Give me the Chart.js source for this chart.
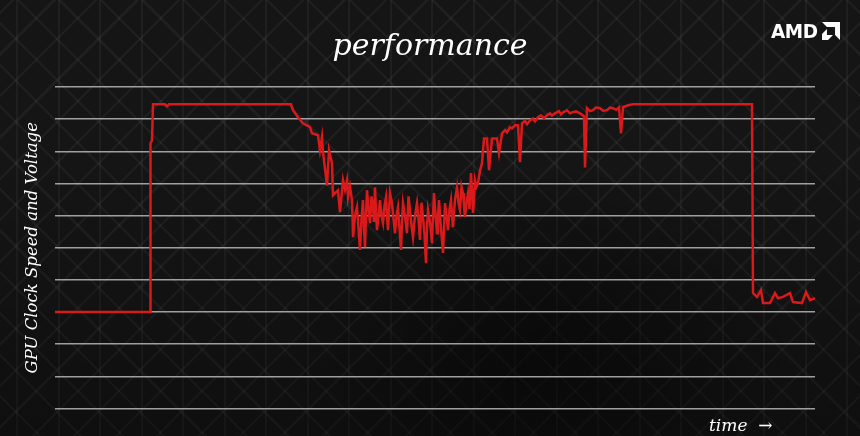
<!DOCTYPE html>
<html>
<head>
<meta charset="utf-8">
<script src="https://cdn.jsdelivr.net/npm/chart.js@4.4.1/dist/chart.umd.min.js"></script>
<style>
  html, body { margin: 0; padding: 0; }
  body {
    width: 860px; height: 436px; overflow: hidden; position: relative;
    background-color: #151515;
    background-image:
      radial-gradient(ellipse 260px 200px at 540px 360px, rgba(0,0,0,0.45), rgba(0,0,0,0) 100%),
      linear-gradient(180deg, rgba(0,0,0,0) 35%, rgba(0,0,0,0.3) 100%),
      repeating-linear-gradient(90deg, transparent 0 16px, rgba(255,255,255,0.045) 16px 18px, transparent 18px 41.5px),
      repeating-linear-gradient(45deg, transparent 0 27px, rgba(255,255,255,0.045) 27px 29.3px),
      repeating-linear-gradient(-45deg, transparent 0 27px, rgba(255,255,255,0.045) 27px 29.3px);
  }
  #wrap { position: absolute; left: 0; top: 0; width: 860px; height: 436px; }
  .time {
    position: absolute; left: 709px; top: 415px;
    font-family: "DejaVu Serif", serif; font-style: italic; font-size: 17px; color: #fff;
  }
  .logo { position: absolute; left: 771px; top: 19px; }
  .logo span {
    font-family: "DejaVu Sans", sans-serif; font-weight: bold; font-size: 20px; color: #fff;
    display: inline-block; transform: scaleX(0.92); transform-origin: left center; letter-spacing: -0.5px;
  }
  .logo svg { position: absolute; left: 51px; top: 3px; }
</style>
</head>
<body>
<div id="wrap"><canvas id="perfChart" width="860" height="436"></canvas></div>
<div class="time">time&nbsp; →</div>
<div class="logo"><span>AMD</span>
  <svg width="18" height="18" viewBox="0 0 20 20"><path fill="#fff" d="M0 0 H20 V20 L14.5 14.5 V5.5 H5.5 Z M5.5 7.8 L0 13.3 V20 H6.7 L12.2 14.5 H5.5 Z"/></svg>
</div>
<script>
// time axis (arbitrary units) and GPU clock reading (arbitrary units, 0-1000)
const timeSteps = [
  0, 95, 95.5, 97, 98, 110, 112, 114, 236, 238, 243, 248, 255, 257, 263, 265, 267, 268, 272, 274, 277, 278, 283,
  285, 286.5, 288, 290, 292, 293, 295, 297, 298, 300,
  302, 303.5, 305, 306.5, 308, 309, 310, 311, 312, 313.5,
  315, 316.5, 318, 319, 320, 321, 322, 323.5, 325, 326.5,
  328, 329.5, 331, 332, 333, 335, 337, 338.5, 340, 341.5,
  343, 344.5, 346, 347, 348, 350, 352, 353.5, 355, 356.5,
  358, 360, 362, 363.5, 365, 366.5, 368, 369.5, 371, 372,
  373, 375, 377, 378, 379, 380.5, 382, 383, 384, 386,
  388, 389, 390, 391.5, 393, 394.5, 396, 397, 398, 400,
  402, 403.5, 405, 406.5, 408, 409, 410, 411.5, 413, 414.5,
  416, 417, 418, 419, 420, 421.5, 423, 425, 427,
  429, 432, 434, 437, 442, 444, 447, 450, 452, 455, 457, 460, 463, 465,
  467, 470, 472, 475, 478, 480, 483, 486, 489, 492, 495, 497, 500, 504, 506, 508, 512, 515, 517, 521, 525, 529, 530,
  532, 535, 538, 541, 545, 548, 552, 555, 558, 561, 564, 566, 568, 573, 578, 697,
  698, 702, 706, 708, 715, 720, 723, 728, 735, 738, 747, 751, 755, 760
];
const clockSpeed = [
  300, 300, 825, 834, 946, 946, 940, 946, 946, 928, 906, 887, 875, 856, 850, 803, 844, 797, 694, 803, 763, 663, 679,
  611, 660, 710, 680, 710, 657, 690, 648, 533, 600,
  626, 560, 493, 590, 648, 560, 502, 600, 679, 620,
  577, 660, 626, 580, 688, 610, 555, 600, 648, 600,
  577, 630, 657, 600, 555, 670, 639, 590, 545, 600,
  626, 560, 493, 580, 639, 600, 545, 660, 617, 570,
  533, 600, 639, 590, 524, 640, 595, 540, 452, 560,
  617, 580, 514, 600, 670, 600, 545, 600, 648, 560,
  484, 560, 639, 600, 555, 620, 648, 600, 564, 650,
  688, 640, 617, 690, 670, 630, 595, 640, 670, 620,
  732, 680, 608, 650, 710, 690, 701, 740, 763,
  840, 840, 741, 840, 840, 794, 856, 866, 859, 875, 871, 881, 881, 766,
  887, 895, 884, 896, 902, 893, 906, 912, 903, 912, 918, 911, 918, 925, 915, 921, 927, 918, 921, 924, 918, 909, 750,
  934, 925, 928, 937, 934, 926, 928, 936, 934, 929, 937, 856, 937, 943, 946, 946,
  359, 347, 368, 328, 328, 359, 343, 347, 359, 331, 328, 362, 337, 343
];
const gridLevels = [0, 1000, 100]; // min, max, step

const points = timeSteps.map((t, i) => ({ x: t, y: clockSpeed[i] }));

new Chart(document.getElementById('perfChart'), {
  type: 'line',
  data: {
    datasets: [{
      data: points,
      borderColor: '#d9191a',
      borderWidth: 2.5,
      pointRadius: 0,
      tension: 0,
      fill: false
    }]
  },
  options: {
    responsive: false,
    animation: false,
    layout: { padding: 0 },
    plugins: {
      legend: { display: false },
      tooltip: { enabled: false },
      title: {
        display: true,
        text: 'performance',
        color: '#ffffff',
        font: { family: 'DejaVu Serif', style: 'italic', weight: 'normal', size: 30 },
        padding: { top: 29, bottom: 22 }
      }
    },
    scales: {
      x: {
        type: 'linear',
        min: timeSteps[0],
        max: timeSteps[timeSteps.length - 1],
        grid: { display: false },
        ticks: { display: false },
        border: { display: false },
        afterFit: s => { s.height = 27.5; }
      },
      y: {
        min: gridLevels[0],
        max: gridLevels[1],
        ticks: { display: false, stepSize: gridLevels[2] },
        grid: { color: 'rgba(175,175,175,0.9)', lineWidth: 1.5, drawTicks: false },
        border: { display: false },
        title: {
          display: true,
          text: 'GPU Clock Speed and Voltage',
          color: '#ffffff',
          font: { family: 'DejaVu Serif', style: 'italic', weight: 'normal', size: 16.5 },
          padding: { top: 23, bottom: 0 }
        },
        afterFit: s => { s.width = 55; }
      },
      // empty right margin so the title stays centred on the page
      yRight: {
        type: 'linear',
        position: 'right',
        grid: { display: false },
        ticks: { display: false },
        border: { display: false },
        afterFit: s => { s.width = 45; }
      }
    }
  }
});
</script>
</body>
</html>
